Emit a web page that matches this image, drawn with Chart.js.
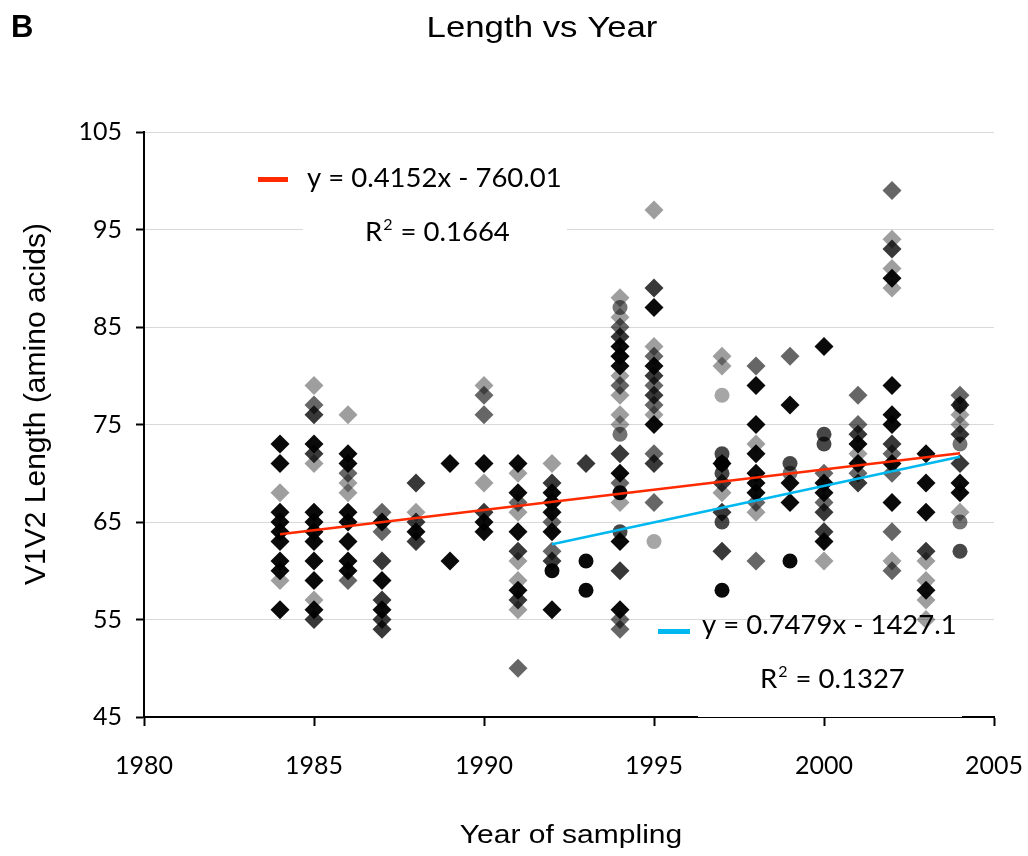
<!DOCTYPE html>
<html>
<head>
<meta charset="utf-8">
<title>Length vs Year</title>
<script src="https://cdn.jsdelivr.net/npm/chart.js@4.4.1/dist/chart.umd.min.js"></script>
<style>
  html, body { margin: 0; padding: 0; background: #fff; }
  #wrap { width: 1028px; height: 856px; }
</style>
</head>
<body>
<div id="wrap"><canvas id="lengthChart" width="1028" height="856"></canvas></div>
<script>
// V1V2 length (amino acids) by year of sampling, one list per marker shade
var blackDiamonds = [
  [1984,73],[1984,71],[1984,66],[1984,65],[1984,64],[1984,63],[1984,61],[1984,60],[1984,56],
  [1985,73],[1985,66],[1985,65],[1985,64],[1985,63],[1985,61],[1985,59],[1985,56],
  [1986,72],[1986,71],[1986,66],[1986,65],[1986,63],[1986,61],[1986,60],
  [1987,65],[1987,59],[1987,56],
  [1988,64],
  [1989,71],[1989,61],
  [1990,71],[1990,65],[1990,64],
  [1991,71],[1991,68],[1991,64],[1991,58],
  [1992,68],[1992,67],[1992,66],[1992,64],[1992,56],
  [1994,83],[1994,82],[1994,81],[1994,70],[1994,63],[1994,56],
  [1995,87],[1995,81],[1995,75],
  [1997,71],
  [1998,79],[1998,75],[1998,72],[1998,70],[1998,69],[1998,68],
  [1999,77],[1999,69],[1999,67],
  [2000,83],[2000,69],[2000,68],[2000,63],
  [2001,73],[2001,71],
  [2002,90],[2002,79],[2002,76],[2002,75],[2002,71],[2002,67],
  [2003,72],[2003,69],[2003,66],[2003,58],
  [2004,69],[2004,68]
];
var darkDiamonds = [
  [1985,76],[1985,72],[1985,55],
  [1987,61],[1987,57],[1987,55],[1987,54],
  [1988,69],[1988,65],[1988,63],
  [1990,66],
  [1991,62],[1991,57],
  [1992,69],[1992,61],
  [1993,71],
  [1994,84],[1994,72],[1994,60],
  [1995,89],[1995,80],[1995,78],[1995,71],
  [1997,69],[1997,66],[1997,62],
  [2000,66],[2000,64],
  [2001,74],[2001,69],
  [2002,93],[2002,73],
  [2003,62],
  [2004,77],[2004,74],[2004,71]
];
var greyDiamonds = [
  [1985,77],
  [1986,70],[1986,59],
  [1987,66],[1987,64],
  [1990,78],[1990,76],
  [1991,67],[1991,50],
  [1992,65],[1992,62],
  [1994,85],[1994,79],[1994,69],[1994,55],[1994,54],
  [1995,82],[1995,79],[1995,77],[1995,72],[1995,67],
  [1998,81],[1998,67],[1998,61],
  [1999,82],
  [2000,70],[2000,67],
  [2001,78],[2001,75],[2001,70],
  [2002,99],[2002,72],[2002,70],[2002,64],[2002,60],
  [2004,78]
];
var paleDiamonds = [
  [1984,68],[1984,59],
  [1985,79],[1985,71],[1985,57],
  [1986,76],[1986,69],[1986,68],
  [1988,66],
  [1990,79],[1990,69],
  [1991,70],[1991,66],[1991,61],[1991,59],[1991,56],
  [1992,71],
  [1994,88],[1994,86],[1994,82],[1994,80],[1994,78],[1994,76],[1994,75],[1994,67],
  [1995,97],[1995,83],[1995,76],
  [1997,82],[1997,81],[1997,68],
  [1998,73],[1998,66],
  [2000,61],
  [2001,72],
  [2002,94],[2002,91],[2002,89],[2002,61],
  [2003,61],[2003,59],[2003,57],[2003,55],
  [2004,76],[2004,75],[2004,66]
];
var blackCircles = [[1992,60],[1993,61],[1993,58],[1994,68],[1997,71],[1997,58],[1999,61]];
var darkCircles = [[1994,64],[1997,72],[1997,70],[1997,65],[1999,71],[2000,74],[2000,73],[2004,62]];
var greyCircles = [[1994,87],[1994,74],[1999,70],[2004,77],[2004,73],[2004,65]];
var paleCircles = [[1995,63],[1997,78]];

// linear fits: all samples, and samples from 1992 on
var fitSlope = [0.4152, 0.7479];
var fitIntercept = [-760.01, -1427.1];
var fitR2 = ['0.1664', '0.1327'];
var fitFromYear = [1984, 1992];
var fitToYear = [2004, 2004];

var fitColors = ['#ff2a00', '#00b8f0'];

function toXY(list) {
  return list.map(function (p) { return { x: p[0], y: p[1] }; });
}

function fitLine(i) {
  return [fitFromYear[i], fitToYear[i]].map(function (yr) {
    return { x: yr, y: fitSlope[i] * yr + fitIntercept[i] };
  });
}

function fitLabel(i) {
  var b = fitIntercept[i];
  return 'y = ' + fitSlope[i] + 'x ' + (b < 0 ? '- ' : '+ ') + Math.abs(b);
}

function markers(list, style, fill) {
  return {
    data: toXY(list),
    pointStyle: style,
    pointRadius: style === 'circle' ? 7.5 : 9.5,
    pointBackgroundColor: fill,
    pointBorderWidth: 0,
    showLine: false,
    order: 1
  };
}

// text drawn stretched a little sideways, like the headings
function wideText(ctx, str, cx, baseline, font, sx) {
  ctx.save();
  ctx.font = font;
  ctx.textAlign = 'center';
  ctx.textBaseline = 'alphabetic';
  ctx.translate(cx, baseline);
  ctx.scale(sx, 1);
  ctx.fillText(str, 0, 0);
  ctx.restore();
}

function rSquared(ctx, x, baseline, value) {
  ctx.font = '27.5px Lato';
  ctx.fillText('R', x, baseline);
  var w = ctx.measureText('R').width;
  ctx.font = '16px Lato';
  ctx.fillText('2', x + w + 1, baseline - 11);
  var w2 = ctx.measureText('2').width;
  ctx.font = '27.5px Lato';
  ctx.fillText(' = ' + value, x + w + w2 + 2, baseline);
}

// where each fit's key and equation sit
var fitKeys = [
  { patch: [258, 177, 30, 5], eq: [307, 187], r2: [365, 241], box: [303, 207, 264, 24] },
  { patch: [658, 629, 32, 5], eq: [702, 634], r2: [760, 688], box: [698, 655, 264, 62] }
];

var chartText = {
  id: 'chartText',
  afterDraw: function (chart) {
    var ctx = chart.ctx;
    ctx.save();
    ctx.fillStyle = '#000';
    ctx.textAlign = 'left';
    ctx.textBaseline = 'alphabetic';
    ctx.font = 'bold 31px "Liberation Sans", Arial, sans-serif';
    ctx.fillText('B', 11, 37);

    wideText(ctx, 'Length vs Year', 542, 37, '29px "Liberation Sans", Arial, sans-serif', 1.2);
    wideText(ctx, 'Year of sampling', 571, 843, '25px "Liberation Sans", Arial, sans-serif', 1.2);

    ctx.save();
    ctx.translate(45, 404);
    ctx.rotate(-Math.PI / 2);
    ctx.font = '30px "Liberation Sans", Arial, sans-serif';
    ctx.textAlign = 'center';
    ctx.fillText('V1V2 Length (amino acids)', 0, 0);
    ctx.restore();

    fitKeys.forEach(function (k, i) {
      ctx.fillStyle = '#fff';
      ctx.fillRect(k.box[0], k.box[1], k.box[2], k.box[3]);
      ctx.fillStyle = fitColors[i];
      ctx.fillRect(k.patch[0], k.patch[1], k.patch[2], k.patch[3]);
      ctx.fillStyle = '#000';
      ctx.textAlign = 'left';
      ctx.font = '27.5px Lato';
      ctx.fillText(fitLabel(i), k.eq[0], k.eq[1]);
      rSquared(ctx, k.r2[0], k.r2[1], fitR2[i]);
    });
    ctx.restore();
  }
};

var datasets = [
  { data: fitLine(0), showLine: true, borderColor: fitColors[0], borderWidth: 2.5, pointRadius: 0, order: 0 },
  { data: fitLine(1), showLine: true, borderColor: fitColors[1], borderWidth: 2.5, pointRadius: 0, order: 0 },
  markers(paleDiamonds, 'rectRot', 'rgba(0,0,0,0.38)'),
  markers(greyDiamonds, 'rectRot', 'rgba(0,0,0,0.6)'),
  markers(darkDiamonds, 'rectRot', 'rgba(0,0,0,0.78)'),
  markers(blackDiamonds, 'rectRot', 'rgba(0,0,0,0.96)'),
  markers(paleCircles, 'circle', 'rgba(0,0,0,0.35)'),
  markers(greyCircles, 'circle', 'rgba(0,0,0,0.55)'),
  markers(darkCircles, 'circle', 'rgba(0,0,0,0.72)'),
  markers(blackCircles, 'circle', 'rgba(0,0,0,0.96)')
];

var tickFont = { family: 'Lato', size: 25 };

// keep the plot box fixed: no extra room for overhanging tick labels
function noOverhang(s) {
  s.paddingLeft = 0;
  s.paddingRight = 0;
  s.paddingTop = 0;
  s.paddingBottom = 0;
}

new Chart(document.getElementById('lengthChart').getContext('2d'), {
  type: 'scatter',
  data: { datasets: datasets },
  options: {
    responsive: false,
    animation: false,
    events: [],
    layout: { padding: { left: 0, right: 34, top: 132, bottom: 0 } },
    plugins: {
      legend: { display: false },
      tooltip: { enabled: false },
      title: { display: false }
    },
    scales: {
      x: {
        type: 'linear',
        min: 1980,
        max: 2005,
        ticks: {
          stepSize: 5,
          padding: 25,
          color: '#000',
          font: tickFont,
          callback: function (v) { return String(v); }
        },
        grid: { drawOnChartArea: false, tickLength: 9, tickColor: '#000', tickWidth: 2 },
        border: { color: '#000', width: 2 },
        afterFit: function (s) { s.height = 139; noOverhang(s); }
      },
      y: {
        type: 'linear',
        min: 45,
        max: 105,
        ticks: {
          stepSize: 10,
          padding: 14,
          color: '#000',
          font: tickFont,
          callback: function (v) { return String(v); }
        },
        grid: {
          color: function (c) { return c.tick && c.tick.value === 45 ? 'rgba(0,0,0,0)' : '#d9d9d9'; },
          lineWidth: 1,
          tickLength: 8,
          tickColor: '#000',
          tickWidth: 2
        },
        border: { color: '#000', width: 2 },
        afterFit: function (s) { s.width = 144; noOverhang(s); }
      }
    }
  },
  plugins: [chartText]
});
</script>
</body>
</html>
